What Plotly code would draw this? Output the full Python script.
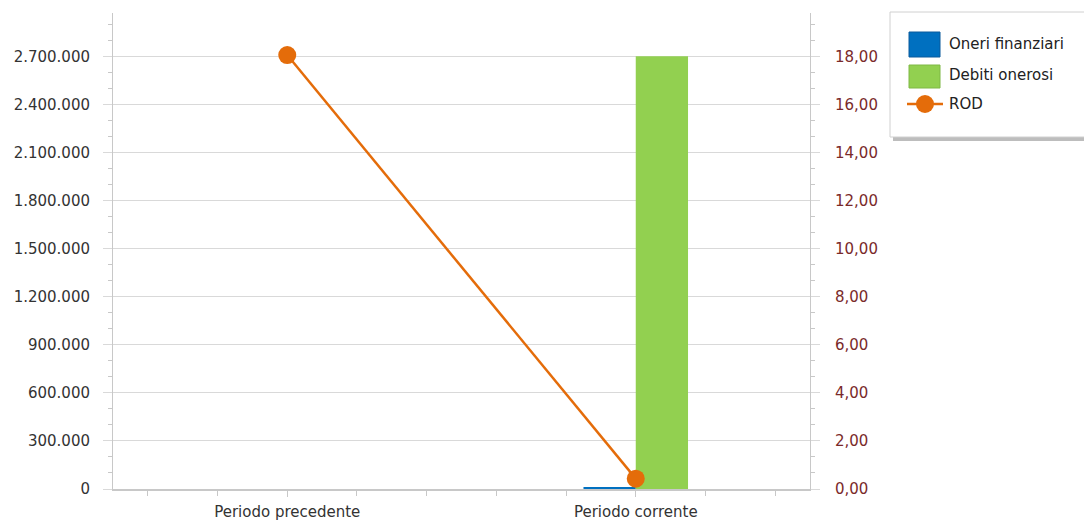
import plotly.graph_objects as go

categories = ["Periodo precedente", "Periodo corrente"]
oneri_finanziari = [0, 11500]
debiti_onerosi = [0, 2700000]
rod = [18.05, 0.43]

W, H = 1084, 524
L, R, T, B = 113, 274, 13, 35
PW, PH = W - L - R, H - T - B

def px(x):
    return (x - L) / PW

def py(y):
    return 1 - (y - T) / PH

xpos = list(range(len(categories)))
FONT = "DejaVu Sans"
FS = 15

fig = go.Figure()
fig.add_trace(go.Bar(x=xpos, y=oneri_finanziari, name="Oneri finanziari",
                     marker=dict(color="#0070C0", line=dict(width=0)), showlegend=False))
fig.add_trace(go.Bar(x=xpos, y=debiti_onerosi, name="Debiti onerosi",
                     marker=dict(color="#92D050", line=dict(width=0)), showlegend=False))
fig.add_trace(go.Scatter(x=xpos, y=rod, name="ROD", yaxis="y2", mode="lines+markers",
                         line=dict(color="#E46C0A", width=2.5),
                         marker=dict(size=18, color="#E46C0A"), showlegend=False))

grid = "#d9d9d9"
axis_col = "#c8c8c8"

fig.update_layout(
    width=W, height=H, autosize=False,
    margin=dict(l=L, r=R, t=T, b=B, autoexpand=False),
    paper_bgcolor="white", plot_bgcolor="white",
    separators=",.",
    barmode="group", bargap=0.7, bargroupgap=0,
    font=dict(family=FONT, size=FS, color="#333333"),
    xaxis=dict(range=[-0.5, 1.5], tickvals=xpos, ticktext=categories, automargin=False,
               showgrid=False, zeroline=False,
               showline=True, linecolor=axis_col, linewidth=2,
               ticks="outside", ticklen=6, tickcolor=axis_col, tickwidth=1,
               minor=dict(dtick=0.2, ticks="outside", ticklen=5, tickcolor=axis_col, showgrid=False),
               tickfont=dict(family=FONT, size=FS, color="#333333"),
               ticklabelstandoff=2),
    yaxis=dict(range=[0, 2970000], dtick=300000, tickformat=",d", automargin=False,
               showgrid=True, gridcolor=grid, gridwidth=1, zeroline=False,
               showline=True, linecolor=axis_col, linewidth=1,
               ticks="outside", ticklen=9, tickcolor=grid,
               minor=dict(dtick=100000, ticks="outside", ticklen=4, tickcolor=axis_col, showgrid=False),
               tickfont=dict(family=FONT, size=FS, color="#333333"),
               ticklabelstandoff=10),
    yaxis2=dict(range=[0, 19.8], dtick=2, tickformat=".2f", overlaying="y", side="right",
                automargin=False,
                showgrid=False, zeroline=False,
                showline=True, linecolor=axis_col, linewidth=1,
                ticks="outside", ticklen=9, tickcolor=grid,
                minor=dict(dtick=2/3, ticks="outside", ticklen=4, tickcolor=axis_col, showgrid=False),
                tickfont=dict(family=FONT, size=FS, color="#7a2a2a"),
                ticklabelstandoff=12),
)

# custom legend (box, shadow, swatches, labels)
bx0, by0, bx1, by1 = 890, 12, 1090, 137
shapes = [
    dict(type="rect", xref="paper", yref="paper", x0=px(bx0 + 3), x1=px(bx1 + 3),
         y0=py(by1 + 4), y1=py(by0 + 4), fillcolor="#bdbdbd", line=dict(width=0), layer="above"),
    dict(type="rect", xref="paper", yref="paper", x0=px(bx0), x1=px(bx1),
         y0=py(by1), y1=py(by0), fillcolor="white", line=dict(color="#d0d0d0", width=1), layer="above"),
    dict(type="rect", xref="paper", yref="paper", x0=px(909), x1=px(940),
         y0=py(57), y1=py(32), fillcolor="#0070C0", line=dict(color="#0a5a9c", width=1), layer="above"),
    dict(type="rect", xref="paper", yref="paper", x0=px(909), x1=px(940),
         y0=py(88), y1=py(65), fillcolor="#92D050", line=dict(color="#7fb845", width=1), layer="above"),
    dict(type="line", xref="paper", yref="paper", x0=px(907), x1=px(943),
         y0=py(104), y1=py(104), line=dict(color="#E46C0A", width=2.5), layer="above"),
    dict(type="circle", xref="paper", yref="paper", x0=px(916), x1=px(934),
         y0=py(113), y1=py(95), fillcolor="#E46C0A", line=dict(width=0), layer="above"),
]
labels = [("Oneri finanziari", 44), ("Debiti onerosi", 75), ("ROD", 104)]
annotations = [
    dict(text=t, xref="paper", yref="paper", x=px(947), y=py(yy), xanchor="left", yanchor="middle",
         showarrow=False, font=dict(family=FONT, size=FS, color="#222222"))
    for t, yy in labels
]
fig.update_layout(shapes=shapes, annotations=annotations)

fig.write_html("out.html",
               config=dict(displayModeBar=False, responsive=False),
               post_script="document.body.style.margin='0px';document.body.style.overflow='hidden';")
